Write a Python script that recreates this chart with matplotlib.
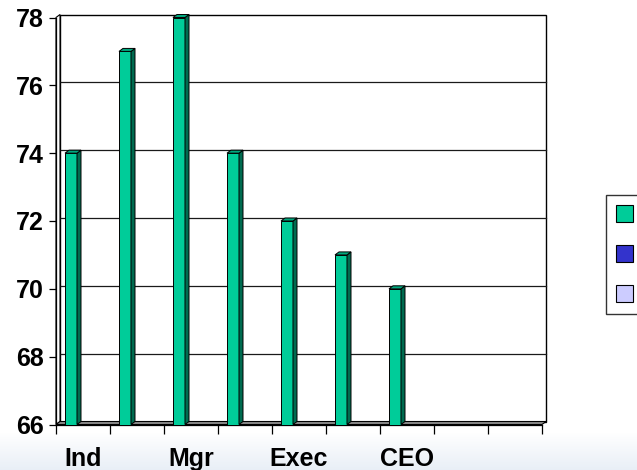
import numpy as np
import matplotlib.pyplot as plt
from matplotlib.patches import Rectangle, Polygon, Patch

# data
categories = ['Ind', '', 'Mgr', '', 'Exec', '', 'CEO', '', '']
values = [74, 77, 78, 74, 72, 71, 70, np.nan, np.nan]
series_colors = ['#00CC99', '#3333CC', '#CCCCFF']
y_ticks = [66, 68, 70, 72, 74, 76, 78]

W, H = 637, 470
fig = plt.figure(figsize=(W / 100, H / 100), dpi=100)
plt.rcParams['font.family'] = ['Liberation Sans Narrow', 'Liberation Sans', 'DejaVu Sans']

# faint slide background at the bottom
bg = fig.add_axes([0, 0, 1, 1], zorder=-5)
grad = np.ones((H, 1, 3))
rows = np.arange(H)
t = np.clip((rows - 432) / 38.0, 0, 1)[:, None]
grad[:, 0, :] = (1 - t) * np.array([1, 1, 1]) + t * np.array([0.91, 0.935, 0.965])
bg.imshow(grad, aspect='auto', extent=[0, 1, 0, 1], origin='upper')
bg.axis('off')

# front plane of the 3-D plot
left_px, right_px, top_px, bot_px = 56, 542, 17.5, 424.5
ax = fig.add_axes([left_px / W, (H - bot_px) / H, (right_px - left_px) / W, (bot_px - top_px) / H])
ax.set_xlim(0, len(categories))
ax.set_ylim(66, 78)
ax.patch.set_visible(False)

# depth offset in data units (about 4 px right, 3 px up)
dx = 4 * len(categories) / (right_px - left_px)
dy = 3 * 12 / (bot_px - top_px)
n = len(categories)

# back wall + gridlines
ax.add_patch(Rectangle((dx, 66 + dy), n, 12, facecolor='white', edgecolor='black',
                       lw=1.0, clip_on=False, zorder=1))
for yv in y_ticks[1:-1]:
    ax.plot([dx, n + dx], [yv + dy, yv + dy], color='#1a1a1a', lw=0.9, clip_on=False, zorder=1.5)

# left side wall
ax.add_patch(Polygon([(0, 66), (0, 78), (dx, 78 + dy), (dx, 66 + dy)], closed=True,
                     facecolor='white', edgecolor='black', lw=0.8, clip_on=False, zorder=2))
# floor
ax.add_patch(Polygon([(0, 66), (n, 66), (n + dx, 66 + dy), (dx, 66 + dy)], closed=True,
                     facecolor='#8c8c8c', edgecolor='black', lw=0.8, clip_on=False, zorder=2))

# bars (first series of a 3-series cluster, gap width 150%)
bw = 1 / 4.5
for i, v in enumerate(values):
    if np.isnan(v):
        continue
    x0 = i + 0.75 / 4.5
    ax.bar(x0, v - 66, width=bw, bottom=66, align='edge', color=series_colors[0],
           edgecolor='black', lw=0.7, zorder=4)
    ax.add_patch(Polygon([(x0 + bw, 66), (x0 + bw + dx, 66 + dy), (x0 + bw + dx, v + dy), (x0 + bw, v)],
                         closed=True, facecolor='#006b50', edgecolor='black', lw=0.7,
                         clip_on=False, zorder=4))
    ax.add_patch(Polygon([(x0, v), (x0 + bw, v), (x0 + bw + dx, v + dy), (x0 + dx, v + dy)],
                         closed=True, facecolor='#00a87e', edgecolor='black', lw=0.7,
                         clip_on=False, zorder=4))

# axes, ticks
for s in ['top', 'right']:
    ax.spines[s].set_visible(False)
ax.spines['left'].set_linewidth(0.9)
ax.spines['bottom'].set_linewidth(0.9)
ax.spines['left'].set_zorder(3)
ax.spines['bottom'].set_zorder(3)

ax.set_yticks(y_ticks)
ax.set_yticklabels([str(v) for v in y_ticks], fontsize=18, fontweight='bold')
ax.tick_params(axis='y', direction='out', length=5, width=0.9, pad=4)

ax.set_xticks(np.arange(n + 1))
ax.set_xticklabels([])
ax.tick_params(axis='x', which='major', direction='out', length=6.5, width=0.9)
ax.set_xticks(np.arange(n) + 0.5, minor=True)
ax.set_xticklabels(categories, minor=True, fontsize=18, fontweight='bold')
ax.tick_params(axis='x', which='minor', length=0, pad=16)

# legend (three series, no names shown)
handles = [Patch(facecolor=c, edgecolor='black', lw=0.8) for c in series_colors]
leg = fig.legend(handles, ['      '] * 3, loc='center left',
                 bbox_to_anchor=(606 / W, (H - 254.5) / H), fontsize=13.7,
                 handlelength=0.9, handleheight=1.0, labelspacing=1.12,
                 borderpad=0.5, handletextpad=0.5, fancybox=False, shadow=False,
                 frameon=True, borderaxespad=0)
leg.get_frame().set_edgecolor('black')
leg.get_frame().set_linewidth(1.0)

fig.savefig('out.png', dpi=100)
